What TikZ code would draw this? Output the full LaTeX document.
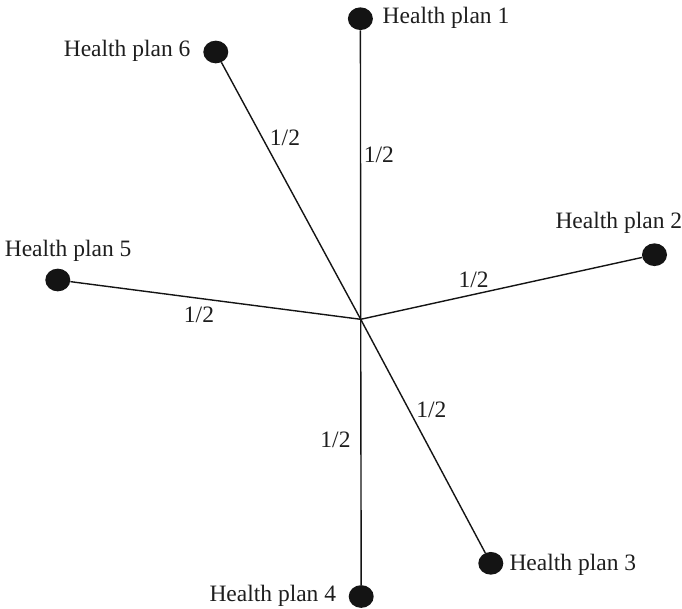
\documentclass[tikz,border=0pt]{standalone}
\usepackage{fontspec}
\setmainfont{Liberation Serif}
\usetikzlibrary{shapes.geometric}
\definecolor{dotcol}{HTML}{141414}
\definecolor{txtcol}{HTML}{1E1E1E}
\tikzset{
  plandot/.style={ellipse, fill=dotcol, draw=none, minimum width=25pt, minimum height=22.7pt, inner sep=0pt},
  plantext/.style={inner sep=0pt, text=txtcol, font=\fontsize{23.5pt}{26pt}\selectfont},
  weight/.style={inner sep=0pt, text=txtcol, font=\fontsize{23.5pt}{26pt}\selectfont},
  link/.style={line width=1.4pt, draw=dotcol}
}
\begin{document}
\begin{tikzpicture}[x=1pt, y=-1pt]
\useasboundingbox (0,0) rectangle (682,608);
\coordinate (c) at (360.7,319.3);
% dots
\node[plandot] (d1) at (360.4,18.7) {};
\node[plandot] (d2) at (654.5,254.7) {};
\node[plandot] (d3) at (490.8,563.3) {};
\node[plandot] (d4) at (361.2,596.5) {};
\node[plandot] (d5) at (57.8,280) {};
\node[plandot] (d6) at (215.8,52) {};
% links
\draw[link] (c) -- (d1);
\draw[link] (c) -- (d2);
\draw[link] (c) -- (d4);
\draw[link] (c) -- (d5);
\draw[link] (d6) -- (c) -- (d3);
% plan labels
\node[plantext, anchor=base west] (t1) at (382.5,23.3) {Health plan 1};
\node[plantext, anchor=base east] (t2) at (682.3,228) {Health plan 2};
\node[plantext, anchor=base west] (t3) at (509.3,570.7) {Health plan 3};
\node[plantext, anchor=base east] (t4) at (336.3,601.3) {Health plan 4};
\node[plantext, anchor=base east] (t5) at (131.6,256.7) {Health plan 5};
\node[plantext, anchor=base east] (t6) at (190.6,56.7) {Health plan 6};
% weights
\node[weight] (w1) at (378.8,154.5) {1/2};
\node[weight] (w2) at (473.7,279.5) {1/2};
\node[weight] (w3) at (431.3,410.3) {1/2};
\node[weight] (w4) at (335.5,439.5) {1/2};
\node[weight] (w5) at (199,314.8) {1/2};
\node[weight] (w6) at (285,137.8) {1/2};
\end{tikzpicture}
\end{document}
